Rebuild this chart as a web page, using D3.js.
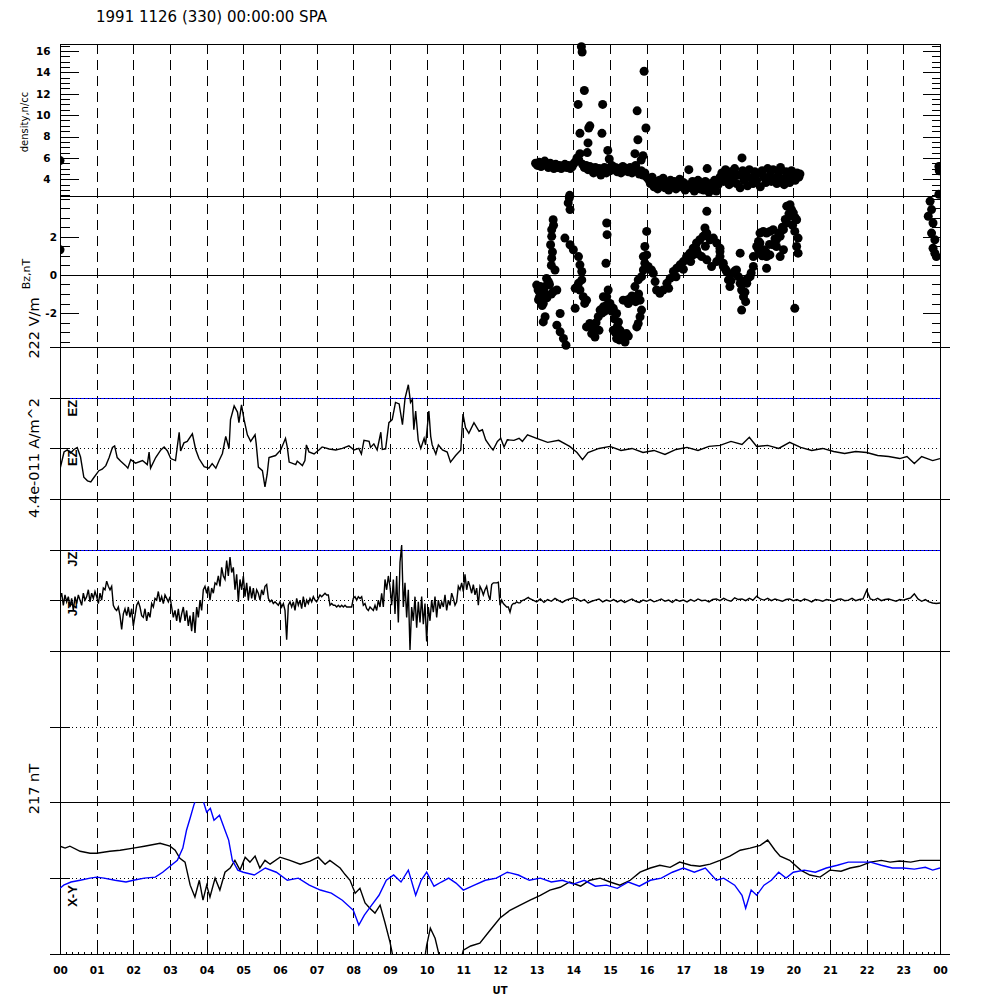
<!DOCTYPE html>
<html>
<head>
<meta charset="utf-8">
<script src="https://cdn.jsdelivr.net/npm/d3@7"></script>
<style>
  body { margin: 0; background: #fff; }
</style>
</head>
<body>
<div id="chart"></div>
<script>
var title = "1991 1126 (330) 00:00:00 SPA";
var hourLabels = ["00","01","02","03","04","05","06","07","08","09","10","11",
  "12","13","14","15","16","17","18","19","20","21","22","23","00"];
var densityTicks = [4, 6, 8, 10, 12, 14, 16];
var bzTicks = [-2, 0, 2];

// density n/cc, [UT hour, value]
var densityPts = [
  [0.0,5.75],
  [12.97,5.5],[13.02,5.3],[13.07,5.6],[13.12,5.2],[13.17,5.4],[13.22,5.7],[13.27,5.3],[13.32,5.1],[13.37,5.5],
  [13.42,5.2],[13.47,5.0],[13.52,5.4],[13.57,5.1],[13.62,5.3],[13.67,5.0],[13.72,5.2],[13.77,5.4],[13.82,5.1],
  [13.87,5.3],[13.92,5.0],[13.97,5.2],[14.02,5.5],[14.07,5.7],[14.1,6.0],[14.15,5.8],[14.18,6.4],[13.9,2.5],
  [14.25,5.4],[14.3,5.1],[14.35,5.3],[14.4,4.9],[14.45,5.2],[14.5,5.0],[14.55,4.6],[14.6,5.1],[14.65,4.8],
  [14.7,5.0],[14.75,4.4],[14.8,4.7],[14.85,5.1],[14.9,4.6],[14.95,5.0],[15.0,4.8],[15.05,5.3],[15.1,4.9],
  [15.15,5.1],[15.2,4.7],[15.25,5.0],[15.3,4.6],[15.35,5.2],[15.4,4.8],[15.45,5.0],[15.5,4.7],[15.55,5.1],
  [15.6,4.6],[15.65,4.9],[15.7,5.3],[15.75,4.8],[15.8,4.5],[15.85,4.8],[15.9,4.4],[15.95,4.6],[16.0,4.2],
  [14.13,11.0],[14.18,8.3],[14.22,16.4],[14.24,15.9],[14.3,12.3],[14.42,8.8],[14.4,7.4],[14.38,6.5],[14.45,9.0],
  [14.78,8.3],[14.8,11.0],[14.94,6.7],[14.98,5.9],[15.74,10.4],[15.93,14.1],[15.98,8.8],[15.76,7.7],[15.9,6.2],
  [15.68,6.4],[15.85,5.8],
  [16.05,4.0],[16.1,3.6],[16.15,4.2],[16.2,3.3],[16.25,3.8],[16.3,3.1],[16.35,3.9],[16.4,3.4],[16.45,4.1],
  [16.5,3.2],[16.55,3.7],[16.6,3.0],[16.65,3.9],[16.7,3.4],[16.75,3.8],[16.8,3.1],[16.85,3.6],[16.9,4.0],
  [16.95,3.3],[17.0,3.7],[17.05,3.0],[17.1,3.5],[17.15,4.9],[17.2,3.2],[17.25,3.8],[17.3,2.9],[17.35,3.5],
  [17.4,3.9],[17.45,3.1],[17.5,3.6],[17.55,3.0],[17.6,3.8],[17.65,3.3],[17.7,2.8],[17.75,3.6],[17.8,3.1],
  [17.85,3.9],[17.9,2.9],[17.95,3.5],[18.0,4.2],[17.65,5.0],
  [18.05,4.6],[18.1,3.8],[18.15,4.9],[18.2,4.2],[18.25,3.5],[18.3,4.7],[18.35,4.0],[18.4,5.0],[18.45,3.6],
  [18.5,4.4],[18.55,3.2],[18.6,6.0],[18.62,4.8],[18.65,3.9],[18.7,4.5],[18.75,3.4],[18.8,4.9],[18.85,4.1],
  [18.9,3.6],[18.95,4.7],[19.0,3.9],[19.05,4.6],[19.1,3.3],[19.15,4.8],[19.2,4.2],[19.25,3.7],[19.3,5.0],
  [19.35,4.3],[19.4,3.8],[19.45,4.9],[19.5,4.1],[19.55,3.6],[19.6,4.6],[19.65,5.1],[19.7,4.0],[19.75,3.5],
  [19.8,4.7],[19.85,4.2],[19.9,3.7],[19.95,4.8],[20.0,4.3],[20.05,3.9],[20.1,4.6],[20.15,4.2],[20.18,4.5],
  [23.97,5.2],[23.98,4.8],[23.97,2.6]
];

// Bz nT, [UT hour, value]
var bzPts = [
  [0.0,1.32],
  [13.0,-0.53],[13.04,-0.79],[13.08,-1.14],[13.05,-1.3],[13.1,-0.6],[13.15,-1.6],[13.2,-0.9],[13.28,-1.2],
  [13.35,-0.5],[13.4,-1.0],[13.43,1.2],[13.46,2.6],[13.4,0.5],
  [13.45,2.89],[13.41,2.37],[13.41,2.02],[13.38,1.58],[13.41,0.88],[13.5,0.26],[13.27,-0.18],[13.23,-0.61],
  [13.14,-1.05],[13.18,-1.49],[13.45,-0.88],[13.32,-0.35],[13.55,-0.79],[13.23,-2.19],[13.18,-2.46],
  [13.64,-2.02],[13.55,-2.63],[13.64,-2.98],[13.73,-3.33],[13.8,-3.68],
  [13.86,3.77],[13.91,3.42],[13.89,4.03],
  [13.77,1.93],[13.91,1.58],[14.0,1.32],[14.14,0.96],[14.18,0.53],[14.23,0.18],[14.14,-0.44],[14.05,-0.7],
  [14.18,-0.79],[14.27,-1.14],[14.36,-1.32],[14.05,-1.75],[14.23,-0.26],[14.31,-1.49],
  [14.45,-2.54],[14.36,-2.72],[14.5,-3.07],[14.59,-3.25],[14.68,-2.19],[14.73,-1.84],[14.82,-1.67],
  [14.91,-1.58],[15.0,-1.49],[15.09,-1.75],[15.18,-2.02],[15.23,-2.46],[15.27,-2.89],[15.32,-3.25],
  [15.41,-3.51],[15.45,-3.07],[15.18,-3.33],[15.09,-2.89],[14.91,-1.14],[14.95,-0.79],[14.82,-1.14],
  [14.91,2.72],[14.92,2.11],[14.89,0.61],
  [14.55,-2.8],[14.62,-2.5],[14.7,-2.9],[14.78,-2.0],[14.85,-1.9],[14.95,-1.8],[15.05,-1.9],[15.12,-2.3],
  [15.2,-2.7],[15.3,-3.0],[15.38,-3.3],[15.5,-3.2],[15.14,-3.0],[15.25,-3.4],
  [15.36,-1.32],[15.45,-1.32],[15.55,-1.23],[15.64,-1.32],[15.73,-1.14],[15.82,-1.32],[15.86,-1.84],
  [15.82,-2.19],[15.77,-2.54],[15.73,-2.72],[15.68,-0.61],[15.77,-0.26],[15.86,-0.09],[15.91,0.26],
  [15.95,0.61],[16.0,1.05],[15.95,1.49],[16.0,2.28],[15.91,0.96],[16.04,0.44],[16.13,0.26],[16.18,0.09],
  [16.23,-0.35],[16.27,-0.79],[16.36,-0.96],[16.45,-0.79],
  [15.5,-1.5],[15.6,-1.1],[15.7,-1.4],[15.78,-1.0],
  [16.55,-0.44],[16.64,-0.18],[16.73,0.18],[16.82,0.35],[16.91,0.53],[17.0,0.7],[17.09,0.96],[17.18,1.14],
  [17.27,1.4],[17.36,1.67],[17.45,1.84],[17.54,2.02],[17.64,2.19],[17.73,1.84],[17.82,1.93],[17.91,1.67],
  [18.0,1.4],[17.5,0.96],[17.64,0.79],[17.77,0.44],[17.91,0.7],[17.59,2.46],[17.64,3.33],[18.0,1.23],
  [18.09,0.61],[17.27,1.05],[17.36,1.32],[18.0,0.96],[16.6,-0.7],[16.8,-0.1],[17.0,0.3],[17.2,0.7],
  [17.4,1.1],[17.6,1.5],
  [18.09,0.44],[18.18,0.18],[18.23,-0.26],[18.27,-0.61],[18.36,0.09],[18.45,0.26],[18.55,1.14],[18.5,-0.09],
  [18.55,-0.44],[18.59,-0.79],[18.64,-1.14],[18.59,-1.84],[18.73,-0.44],[18.82,-0.09],[18.91,0.44],[18.91,0.96],
  [18.15,0.3],[18.3,-0.3],[18.4,0.2],[18.6,-0.3],[18.68,-0.9],[18.75,-0.2],[18.85,0.1],[18.7,-1.4],
  [19.0,1.49],[19.05,1.75],[19.09,2.19],[19.18,2.28],[19.27,2.19],[19.36,2.28],[19.45,2.37],[19.09,1.67],
  [19.18,1.32],[19.27,0.96],[19.36,1.05],[19.45,1.58],[19.54,1.84],[19.64,2.02],[19.73,2.37],[19.82,2.72],
  [19.91,3.07],[20.0,3.25],[20.09,2.89],[19.82,3.6],[19.91,3.68],[19.73,1.32],[19.64,0.96],[19.27,0.35],
  [19.54,1.49],[20.04,2.28],[20.13,1.93],[20.09,1.49],[20.13,1.14],[20.04,-1.75],[19.95,3.42],
  [19.05,1.3],[19.15,1.0],[19.25,1.2],[19.35,1.6],[19.5,1.9],[19.6,2.2],[19.7,2.5],[19.78,2.9],[19.88,3.2],
  [19.98,2.6],[20.05,3.0],
  [23.73,3.86],[23.77,3.42],[23.68,3.07],[23.81,2.72],[23.77,2.19],[23.86,1.84],[23.81,1.4],[23.9,0.96],
  [23.86,1.14]
];

// EZ in units of the 222 V/m scale, [UT hour, value]
var ezPts = [
  [0.00,-0.41],[0.11,-0.07],[0.20,-0.03],[0.29,-0.09],[0.38,-0.02],[0.47,0.02],[0.56,-0.17],[0.65,-0.57],
  [0.75,-0.64],[0.84,-0.66],[0.93,-0.57],[1.06,-0.44],[1.15,-0.41],[1.25,-0.34],[1.34,-0.18],[1.43,0.02],
  [1.49,0.05],[1.56,-0.18],[1.65,-0.25],[1.79,-0.34],[1.85,-0.39],[1.93,-0.22],[2.06,-0.29],[2.25,-0.24],
  [2.38,-0.32],[2.43,-0.07],[2.47,-0.39],[2.61,-0.18],[2.75,-0.03],[2.84,0.03],[2.93,-0.05],[3.02,-0.20],
  [3.15,-0.24],[3.25,0.32],[3.29,-0.05],[3.38,0.11],[3.47,0.14],[3.61,0.29],[3.70,-0.02],[3.79,-0.20],
  [3.93,-0.36],[4.06,-0.39],[4.15,-0.30],[4.25,-0.39],[4.34,-0.24],[4.43,-0.10],[4.52,0.24],[4.61,0.00],
  [4.65,0.57],[4.75,0.84],[4.84,0.72],[4.88,0.51],[4.95,0.86],[5.02,0.57],[5.11,0.27],[5.20,0.14],
  [5.32,0.27],[5.35,0.10],[5.41,-0.37],[5.52,-0.44],[5.59,-0.76],[5.65,-0.51],[5.70,-0.18],[5.88,-0.14],
  [6.02,-0.03],[6.15,0.20],[6.20,0.02],[6.25,-0.27],[6.43,-0.32],[6.47,-0.25],[6.61,-0.34],[6.68,-0.24],
  [6.72,0.07],[6.79,-0.07],[6.93,-0.11],[7.06,-0.03],[7.15,0.03],[7.34,-0.01],[7.52,-0.03],[7.70,0.00],
  [7.88,0.05],[8.02,-0.03],[8.15,0.00],[8.22,-0.11],[8.29,0.16],[8.43,0.14],[8.47,0.02],[8.56,0.09],
  [8.65,-0.03],[8.75,0.32],[8.79,-0.02],[8.88,-0.01],[8.97,0.51],[9.06,0.57],[9.15,0.91],[9.25,0.88],
  [9.34,0.47],[9.41,0.99],[9.50,1.26],[9.56,0.91],[9.61,0.97],[9.65,0.37],[9.70,0.74],[9.77,0.16],
  [9.84,0.00],[9.93,0.20],[9.97,0.07],[10.06,0.74],[10.11,0.24],[10.15,0.07],[10.25,-0.11],[10.32,0.07],
  [10.43,-0.03],[10.56,-0.07],[10.65,-0.27],[10.79,-0.14],[10.93,-0.03],[10.99,0.68],[11.06,0.41],
  [11.15,0.30],[11.29,0.51],[11.43,0.34],[11.52,0.37],[11.61,0.17],[11.75,0.02],[11.81,-0.03],[11.93,0.14],
  [12.02,0.20],[12.11,0.03],[12.20,0.17],[12.38,0.16],[12.52,0.20],[12.61,0.14],[12.75,0.27],
  [13.0,0.2],[13.3,0.12],[13.6,0.16],[13.9,0.04],[14.1,-0.08],[14.25,-0.22],[14.4,-0.08],[14.7,0],
  [15.0,0.04],[15.3,-0.04],[15.6,0],[15.9,-0.08],[16.2,-0.04],[16.5,-0.12],[16.8,-0.02],[17.1,0.02],
  [17.4,-0.04],[17.7,0.04],[18.0,0.06],[18.3,0.14],[18.6,0.08],[18.8,0.22],[19.0,0.04],[19.3,0.06],
  [19.6,0],[19.9,0.12],[20.2,0.02],[20.5,-0.04],[20.8,0],[21.1,-0.06],[21.4,-0.10],[21.7,-0.06],
  [22.0,-0.08],[22.3,-0.14],[22.6,-0.16],[22.9,-0.20],[23.1,-0.16],[23.3,-0.30],[23.5,-0.16],[23.8,-0.24],
  [24.0,-0.20]
];

// JZ pA/m^2, one sample every 1/22 hour from 00:00
var jzEarly = [
  1.5,6,-4.5,4.5,-1.5,3,-6,1.5,-9,3,-3,4.5,0,-4.5,6,0,3,9,-1.5,6,1.5,7.5,3,-3,6,0,10.5,9,16.5,12,9,12,
  -4.5,-7.5,-9,-6,-13.5,-25.5,-12,-7.5,-13.5,-6,-15,-7.5,-22.5,-13.5,-4.5,-1.5,-6,-13.5,-15,-7.5,-18,-10.5,
  -15,-3,-6,1.5,0,7.5,-1.5,3,-3,4.5,1.5,-1.5,3,-6,-15,-9,-18,-7.5,-19.5,-12,-6,-18,-9,-22.5,-13.5,-27,
  -10.5,-28.5,-6,-15,0,-9,9,12,6,12,0,10.5,6,15,13.5,21,12,28.5,21,18,34.5,21,37.5,24,28.5,9,22.5,-1.5,
  18,9,21,3,15,0,12,1.5,10.5,0,9,6,0,9,4.5,12,13.5,1.5,-1.5,0,-3,-1.5,-3,-4.5,-1.5,-6,-3,-9,-34.5,-4.5,
  -1.5,-6,-1.5,-9,1.5,-4.5,0,-7.5,3,-6,0,-3,1.5,-1.5,3,0,-1.5,1.5,4.5,3,4.5,6,4.5,4.5,-4.5,-3,-4.5,-4.5,
  -6,-4.5,-6,-4.5,-6,-4.5,-6,-6,-6,-6,1.5,3,0,3,1.5,3,-4.5,-3,-7.5,-9,-6,-7.5,-9,-4.5,-9,0,-6,6,-6,18,9,
  21,12,-4.5,18,-12,21,-19.5,33,48,-6,15,-15,9,-43.5,-6,-18,3,-24,-1.5,-19.5,3,-21,-3,-36,-6,-18,0,-10.5,
  3,-15,0,-7.5,-1.5,-6,4.5,-9,0,-4.5,6,1.5,-4.5,-1.5,12,9,15,7.5,22.5,9,16.5,12,6,13.5,4.5,10.5,-4.5,12,
  9,4.5,9,12,4.5,0,13.5,15,15,15,15.6,-4.5,0,-3,-4.5,-6,-6,-10.5,-4.5,-3,-3,-1.5,-2.4,-2.4,-0.6,0,0.6,
  1.5,2.4
];
// JZ pA/m^2, one sample every 0.1 hour from 12.8
var jzLate = [
  1.5,0,-1.5,1,-2,0.5,-1,1.5,-0.5,-2,0,1,
  2,1,-1,0.5,-2.5,-1,0,1,-1.5,0,
  -1,0.5,-1.5,0,-2,-0.5,1,-1,-2,0,
  -1,0.5,-1.5,-0.5,1,-1,0,-2,0.5,-1,
  0,-1.5,0.5,-1,1,-0.5,0,-1.5,0.5,1,
  -0.5,1.5,0,-1,2,0.5,1,-0.5,1.5,0,
  3.5,1,0,1.5,-0.5,1,0,-1,0.5,1,
  -0.5,0.5,-1,1,0,-1.5,0.5,0,-1,0.5,
  0,-1,0.5,1,-0.5,0,1.5,-0.5,0.5,1,
  8.5,1,0,1.5,-0.5,0.5,1,0,-1,0.5,
  0,1,2,5.5,1,-1,0.5,-1.5,-2.5,-3,
  -2.5
];

// magnetic perturbation nT, [UT hour, value]
var magX = [
  [0,91.5],[0.14,86],[0.27,91.5],[0.55,77],[0.82,71.5],[1.0,71.5],[1.36,77],[1.64,80],[2.0,86],[2.3,91.5],
  [2.73,100],[3.0,91.5],[3.14,80],[3.27,57],[3.41,46],[3.55,-20],[3.68,-54],[3.8,-6],[3.9,-63],[4.0,-20],
  [4.09,-54],[4.23,0],[4.36,-34],[4.5,17],[4.64,29],[4.77,51],[4.91,23],[5.05,60],[5.18,46],[5.32,63],
  [5.45,29],[5.59,51],[5.73,40],[6.0,60],[6.27,51],[6.55,40],[6.82,49],[7.04,60],[7.23,40],[7.36,51],
  [7.64,29],[7.77,11],[7.91,-6],[8.05,-43],[8.18,-29],[8.32,-71],[8.45,-86],[8.59,-100],[8.73,-77],
  [8.86,-126],[9.0,-183],[9.1,-235],[9.3,-277],[9.6,-306],[9.9,-263],[10.0,-192],[10.1,-143],[10.23,-172],
  [10.36,-229],[10.6,-263],[10.9,-249],[11.0,-206],[11.2,-194],[11.45,-186],[11.73,-149],[12.0,-114],
  [12.27,-92],[12.55,-77],[12.82,-63],[13.1,-49],[13.36,-34],[13.64,-26],[13.9,-11],[14.2,-23],[14.45,-6],
  [14.73,0],[15.0,-11],[15.27,-20],[15.55,-6],[15.82,17],[16.1,29],[16.36,37],[16.64,31],[16.9,46],
  [17.2,37],[17.45,34],[17.73,40],[18.0,51],[18.27,63],[18.55,80],[18.82,86],[19.1,94],[19.3,109],
  [19.5,80],[19.64,63],[19.9,51],[20.2,23],[20.45,9],[20.73,3],[21.0,23],[21.3,20],[21.55,29],[21.8,34],
  [22.1,46],[22.4,51],[22.64,46],[22.9,49],[23.2,46],[23.45,51],[23.7,51],[24.0,51]
];
var magY = [
  [0,-29],[0.1,-20],[0.3,-11],[0.55,-6],[0.82,0],[1.0,3],[1.2,0],[1.5,-6],[1.8,-11],[2.0,-6],[2.3,0],
  [2.6,3],[2.8,17],[3.0,34],[3.2,51],[3.35,86],[3.45,137],[3.55,172],[3.65,209],[3.75,237],[3.9,223],
  [4.0,189],[4.1,200],[4.2,166],[4.35,180],[4.5,137],[4.6,109],[4.7,51],[4.85,23],[5.0,17],[5.3,9],
  [5.6,29],[5.9,17],[6.2,-6],[6.5,0],[6.8,-20],[7.1,-34],[7.4,-43],[7.7,-63],[8.0,-92],[8.15,-134],
  [8.3,-106],[8.5,-77],[8.7,-49],[8.9,-6],[9.1,9],[9.3,-11],[9.5,23],[9.7,-49],[9.85,-6],[10.0,17],
  [10.2,-23],[10.4,-11],[10.6,0],[10.8,-14],[11.0,-34],[11.3,-20],[11.6,-6],[11.9,0],[12.2,17],[12.5,9],
  [12.8,-6],[13.1,0],[13.4,-11],[13.7,-6],[14.0,-17],[14.3,-6],[14.6,-23],[14.9,-20],[15.2,-29],[15.5,-11],
  [15.8,-23],[16.1,-6],[16.4,0],[16.7,17],[17.0,29],[17.3,17],[17.6,29],[17.9,-6],[18.1,0],[18.4,-20],
  [18.6,-49],[18.7,-86],[18.85,-34],[19.0,-49],[19.2,-20],[19.4,-6],[19.6,17],[19.8,0],[20.0,17],[20.3,23],
  [20.6,17],[20.9,29],[21.2,37],[21.5,46],[21.8,46],[22.1,46],[22.4,37],[22.7,29],[23.0,29],[23.3,26],
  [23.6,31],[23.8,23],[24.0,29]
];

var width = 1000, height = 1000,
    left = 60, right = 940,
    plotTop = 44, plotBottom = 954,
    panelH = (plotBottom - plotTop) / 6;

var panelTop = d3.range(7).map(function(i) { return plotTop + i * panelH; });

var svg = d3.select("#chart").append("svg")
  .attr("width", width)
  .attr("height", height)
  .style("font-family", "'DejaVu Sans', sans-serif");

var x = d3.scaleLinear().domain([0, 24]).range([left, right]);

var yDen = d3.scaleLinear().domain([2.47, 16.65]).range([panelTop[1], panelTop[0]]);
var yBz = d3.scaleLinear().domain([-3.79, 4.15]).range([panelTop[2], panelTop[1]]);
var yE = d3.scaleLinear().domain([-1, 2]).range([panelTop[3], panelTop[2]]);
var yJ = d3.scaleLinear().domain([-44, 88]).range([panelTop[4], panelTop[3]]);
var yEmpty = d3.scaleLinear().domain([-1, 1]).range([panelTop[5], panelTop[4]]);
var yMag = d3.scaleLinear().domain([-217, 217]).range([panelTop[6], panelTop[5]]);

var defs = svg.append("defs");
defs.append("clipPath").attr("id", "clipX")
  .append("rect").attr("x", left).attr("y", 0).attr("width", right - left).attr("height", height);
[3, 4, 6].forEach(function(p) {
  defs.append("clipPath").attr("id", "clipP" + p)
    .append("rect").attr("x", left).attr("y", panelTop[p - 1])
    .attr("width", right - left).attr("height", panelH);
});

// title
svg.append("text")
  .attr("x", 96).attr("y", 21.5)
  .style("font-size", "15px")
  .text(title);

// hour grid
svg.append("g").selectAll("line")
  .data(d3.range(1, 24))
  .enter().append("line")
  .attr("x1", function(d) { return Math.round(x(d)) + 0.5; })
  .attr("x2", function(d) { return Math.round(x(d)) + 0.5; })
  .attr("y1", plotTop).attr("y2", plotBottom)
  .style("stroke", "#000")
  .style("stroke-dasharray", "10,6")
  .style("shape-rendering", "crispEdges");

// reference lines inside the E, J, empty and B panels
var refLines = [
  {y: yE(1), blue: true}, {y: yE(0)},
  {y: yJ(44), blue: true}, {y: yJ(0)},
  {y: yEmpty(0)}, {y: yMag(0)}
];
refLines.forEach(function(r) {
  var yy = Math.round(r.y) + 0.5;
  if (r.blue) {
    svg.append("line").attr("x1", left).attr("x2", right).attr("y1", yy).attr("y2", yy)
      .style("stroke", "#0000ff").style("shape-rendering", "crispEdges");
  }
  svg.append("line").attr("x1", 72).attr("x2", right).attr("y1", yy).attr("y2", yy)
    .style("stroke", "#000").style("stroke-dasharray", "1,3")
    .style("shape-rendering", "crispEdges");
  svg.append("line").attr("x1", 50).attr("x2", 70).attr("y1", yy).attr("y2", yy)
    .style("stroke", "#000").style("shape-rendering", "crispEdges");
});

// Bz zero line
svg.append("line")
  .attr("x1", left).attr("x2", right)
  .attr("y1", Math.round(yBz(0)) + 0.5).attr("y2", Math.round(yBz(0)) + 0.5)
  .style("stroke", "#000").style("shape-rendering", "crispEdges");

// panel borders
panelTop.forEach(function(t, i) {
  var yy = Math.round(t) + 0.5;
  svg.append("line")
    .attr("x1", i < 2 ? left : 50).attr("x2", i < 2 ? right : 950)
    .attr("y1", yy).attr("y2", yy)
    .style("stroke", "#000").style("shape-rendering", "crispEdges");
});
[left, right].forEach(function(xx) {
  svg.append("line")
    .attr("x1", xx + 0.5).attr("x2", xx + 0.5)
    .attr("y1", plotTop).attr("y2", plotBottom)
    .style("stroke", "#000").style("shape-rendering", "crispEdges");
});

// y axes of the two dot panels
function dotAxes(scale, majors, pad) {
  var dom = scale.domain();
  var minors = d3.range(Math.ceil(dom[0] * 2) / 2, dom[1], 0.5);
  svg.append("g").attr("class", "axis")
    .attr("transform", "translate(" + (left + 0.5) + ",0)")
    .call(d3.axisLeft(scale).tickValues(majors).tickSize(-18).tickPadding(pad)
      .tickFormat(function(d) { return String(d); }));
  svg.append("g").attr("class", "axis")
    .attr("transform", "translate(" + (left + 0.5) + ",0)")
    .call(d3.axisLeft(scale).tickValues(minors).tickSize(-9).tickFormat(""));
  svg.append("g").attr("class", "axis")
    .attr("transform", "translate(" + (right + 0.5) + ",0)")
    .call(d3.axisRight(scale).tickValues(majors).tickSize(-18).tickFormat(""));
  svg.append("g").attr("class", "axis")
    .attr("transform", "translate(" + (right + 0.5) + ",0)")
    .call(d3.axisRight(scale).tickValues(minors).tickSize(-9).tickFormat(""));
}
dotAxes(yDen, densityTicks, 10);
dotAxes(yBz, bzTicks, 3.5);

// time axis
svg.append("g").attr("class", "axis")
  .attr("transform", "translate(0," + (plotBottom + 0.5) + ")")
  .call(d3.axisBottom(x).tickValues(d3.range(0, 25)).tickSize(-8).tickPadding(12)
    .tickFormat(function(d, i) { return hourLabels[i]; }));
svg.append("g").attr("class", "axis")
  .attr("transform", "translate(0," + (plotBottom + 0.5) + ")")
  .call(d3.axisBottom(x).tickValues(d3.range(0, 24 * 6 + 1).map(function(i) { return i / 6; }))
    .tickSize(-2.5).tickFormat(""));

svg.selectAll(".axis .domain").remove();
svg.selectAll(".axis line").style("shape-rendering", "crispEdges");
svg.selectAll(".axis text")
  .style("font-family", "'DejaVu Sans', sans-serif")
  .style("font-weight", "bold")
  .style("font-size", "10.5px")
  .style("fill", "#000");

svg.append("text")
  .attr("x", 500).attr("y", 993.5)
  .attr("text-anchor", "middle")
  .style("font-size", "10px").style("font-weight", "bold")
  .text("UT");

// dots
var dots = svg.append("g").attr("clip-path", "url(#clipX)");
dots.selectAll(".den")
  .data(densityPts)
  .enter().append("circle")
  .attr("class", "den")
  .attr("cx", function(d) { return x(d[0]); })
  .attr("cy", function(d) { return yDen(d[1]); })
  .attr("r", 4.5)
  .style("fill", "#000");
dots.selectAll(".bz")
  .data(bzPts)
  .enter().append("circle")
  .attr("class", "bz")
  .attr("cx", function(d) { return x(d[0]); })
  .attr("cy", function(d) { return yBz(d[1]); })
  .attr("r", 4.5)
  .style("fill", "#000");

// traces
function trace(data, yScale, clip, color) {
  var line = d3.line()
    .x(function(d) { return x(d[0]); })
    .y(function(d) { return yScale(d[1]); });
  svg.append("path")
    .datum(data)
    .attr("clip-path", "url(#" + clip + ")")
    .attr("d", line)
    .style("fill", "none")
    .style("stroke", color)
    .style("stroke-width", 1.4)
    .style("stroke-linejoin", "miter");
}

var jzPts = jzEarly.map(function(v, i) { return [i / 22, v]; })
  .concat(jzLate.map(function(v, i) { return [12.8 + i * 0.1, v]; }));

trace(ezPts, yE, "clipP3", "#000");
trace(jzPts, yJ, "clipP4", "#000");
trace(magX, yMag, "clipP6", "#000");
trace(magY, yMag, "clipP6", "#0000ff");

// axis titles
function vText(txt, xx, yy, size, anchor, weight, family) {
  svg.append("text")
    .attr("transform", "translate(" + xx + "," + yy + ") rotate(-90)")
    .attr("text-anchor", anchor)
    .style("font-size", size)
    .style("font-weight", weight || "normal")
    .style("font-family", family || "'DejaVu Sans', sans-serif")
    .text(txt);
}
vText("density,n/cc", 27.5, 122, "10px", "middle");
vText("Bz,nT", 30, 274, "11px", "middle");
vText("222 V/m", 39, 328, "14.5px", "middle");
vText("4.4e-011 A/m^2", 39, 458, "14.5px", "middle");
vText("217 nT", 39, 789, "14.5px", "middle");

var compLabels = [
  {t: "EZ", y: yE(1) + 2}, {t: "EZ", y: yE(0) + 1},
  {t: "JZ", y: yJ(44) + 2}, {t: "JZ", y: yJ(0) + 1},
  {t: "X-Y", y: yMag(0) + 7}
];
compLabels.forEach(function(c) {
  vText(c.t, 77, c.y, "13px", "end", "bold", "'Liberation Sans', sans-serif");
});
</script>
</body>
</html>
